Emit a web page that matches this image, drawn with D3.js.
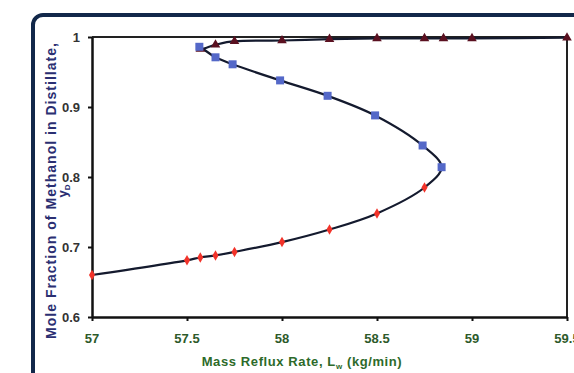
<!DOCTYPE html>
<html>
<head>
<meta charset="utf-8">
<script src="https://cdn.jsdelivr.net/npm/d3@7"></script>
<style>
  body { margin: 0; background: #fff; }
  svg { display: block; font-family: "Liberation Sans", Arial, sans-serif; font-weight: bold; }
</style>
</head>
<body>
<div id="chart"></div>
<script>
// lower branch (red diamonds)
const lowerX = [57, 57.5, 57.57, 57.65, 57.75, 58, 58.25, 58.5, 58.75];
const lowerY = [0.66, 0.681, 0.685, 0.688, 0.693, 0.707, 0.725, 0.748, 0.785];
// middle branch (blue squares)
const middleX = [58.84, 58.74, 58.49, 58.24, 57.99, 57.74, 57.65, 57.565];
const middleY = [0.814, 0.845, 0.888, 0.916, 0.938, 0.961, 0.971, 0.986];
// upper branch (triangles)
const upperX = [57.57, 57.65, 57.75, 58, 58.25, 58.5, 58.75, 58.85, 59, 59.5];
const upperY = [0.983, 0.989, 0.994, 0.995, 0.997, 0.998, 0.998, 0.998, 0.998, 0.999];

const xTicks = [57, 57.5, 58, 58.5, 59, 59.5];
const yTicks = [0.6, 0.7, 0.8, 0.9, 1];

const zip = (xs, ys) => xs.map((x, i) => ({ x, y: ys[i] }));
const lower = zip(lowerX, lowerY);
const middle = zip(middleX, middleY);
const upper = zip(upperX, upperY);

const width = 574;
const height = 373;
const margin = { top: 37, right: 7, bottom: 56, left: 92 };
const innerWidth = width - margin.left - margin.right;
const innerHeight = height - margin.top - margin.bottom;

const xScale = d3.scaleLinear().domain([57, 59.5]).range([margin.left, margin.left + innerWidth]);
const yScale = d3.scaleLinear().domain([0.6, 1]).range([margin.top + innerHeight, margin.top]);

const svg = d3.select("#chart")
  .append("svg")
    .attr("width", width)
    .attr("height", height);

// outer rounded frame (runs off the right and bottom edges)
svg.append("path")
  .attr("d", "M33,400V25A10,10 0 0 1 43,15H600")
  .attr("fill", "none")
  .attr("stroke", "#12284a")
  .attr("stroke-width", 4);

// plot border (top and right)
svg.append("path")
  .attr("d", `M${margin.left},${margin.top}H${margin.left + innerWidth}V${margin.top + innerHeight}`)
  .attr("fill", "none")
  .attr("stroke", "#222")
  .attr("stroke-width", 2);

// x axis (ticks only, labels drawn separately)
const xAxis = svg.append("g")
  .attr("transform", `translate(0, ${margin.top + innerHeight})`)
  .call(d3.axisBottom(xScale).tickValues(xTicks).tickSize(4).tickSizeOuter(0).tickFormat(""));
xAxis.select(".domain").attr("stroke", "#111").attr("stroke-width", 2.5);
xAxis.selectAll(".tick line").attr("stroke", "#111").attr("stroke-width", 2);
xAxis.selectAll(".tick text").remove();

// y axis
const yAxis = svg.append("g")
  .attr("transform", `translate(${margin.left}, 0)`)
  .call(d3.axisLeft(yScale).tickValues(yTicks).tickSize(4).tickSizeOuter(0).tickFormat(""));
yAxis.select(".domain").attr("stroke", "#111").attr("stroke-width", 2.5);
yAxis.selectAll(".tick line").attr("stroke", "#111").attr("stroke-width", 2);
yAxis.selectAll(".tick text").remove();

svg.selectAll(".xlabel")
  .data(xTicks)
  .join("text")
    .attr("class", "xlabel")
    .attr("x", (d) => xScale(d))
    .attr("y", margin.top + innerHeight + 26)
    .attr("text-anchor", "middle")
    .attr("fill", "#2d5a2a")
    .attr("font-size", 13)
    .text((d) => d);

svg.selectAll(".ylabel")
  .data(yTicks)
  .join("text")
    .attr("class", "ylabel")
    .attr("x", margin.left - 12)
    .attr("y", (d) => yScale(d) + 4.5)
    .attr("text-anchor", "end")
    .attr("fill", "#333")
    .attr("font-size", 13)
    .text((d) => d);

// curve through all branches
const line = d3.line()
  .x((d) => xScale(d.x))
  .y((d) => yScale(d.y))
  .curve(d3.curveCatmullRom.alpha(0.5));

svg.append("path")
  .datum(lower.concat(middle, upper))
  .attr("fill", "none")
  .attr("stroke", "#141a2e")
  .attr("stroke-width", 2.2)
  .attr("d", line);

// markers
svg.selectAll(".tri")
  .data(upper)
  .join("path")
    .attr("class", "tri")
    .attr("transform", (d) => `translate(${xScale(d.x)}, ${yScale(d.y)})`)
    .attr("d", d3.symbol(d3.symbolTriangle, 40))
    .attr("fill", "#5a1020");

svg.selectAll(".sq")
  .data(middle)
  .join("rect")
    .attr("class", "sq")
    .attr("x", (d) => xScale(d.x) - 4)
    .attr("y", (d) => yScale(d.y) - 4)
    .attr("width", 8)
    .attr("height", 8)
    .attr("fill", "#5468c8");

svg.selectAll(".dia")
  .data(lower)
  .join("path")
    .attr("class", "dia")
    .attr("transform", (d) => `translate(${xScale(d.x)}, ${yScale(d.y)})`)
    .attr("d", d3.symbol(d3.symbolDiamond, 32))
    .attr("fill", "#f2332a");

// axis titles
svg.append("text")
  .attr("x", 302)
  .attr("y", 366)
  .attr("text-anchor", "middle")
  .attr("fill", "#2d6a2a")
  .attr("font-size", 13)
  .attr("letter-spacing", 0.6)
  .html('Mass Reflux Rate, L<tspan font-size="8" dy="3">w</tspan><tspan dy="-3"> (kg/min)</tspan>');

const yTitle = svg.append("g")
  .attr("transform", "translate(56, 191) rotate(-90)")
  .attr("fill", "#2b2f72")
  .attr("text-anchor", "middle");
yTitle.append("text")
  .attr("font-size", 14)
  .attr("textLength", 296)
  .text("Mole Fraction of Methanol in Distillate,");
yTitle.append("text")
  .attr("y", 11)
  .attr("font-size", 13)
  .html('y<tspan font-size="8" dy="3">D</tspan>');
</script>
</body>
</html>
